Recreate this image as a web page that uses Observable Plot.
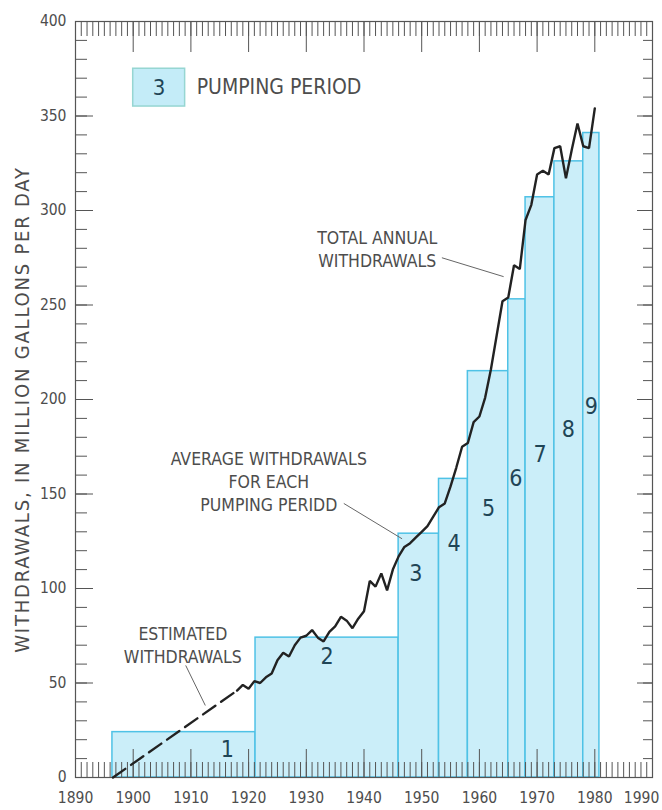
<!DOCTYPE html>
<html><head><meta charset="utf-8">
<script src="https://cdn.jsdelivr.net/npm/d3@7"></script>
<script src="https://cdn.jsdelivr.net/npm/@observablehq/plot@0.6"></script>
<style>
body{margin:0;background:#fff;}
#chart svg{display:block;}
</style></head><body><div id="chart"></div>
<script>
// ---- Pumping periods (average withdrawals) ----
const periodNames  = ["1","2","3","4","5","6","7","8","9"];
const periodStart  = [1896.4, 1921.2, 1946, 1953, 1958, 1965, 1968, 1973, 1978];
const periodEnd    = [1921.2, 1946, 1953, 1958, 1965, 1968, 1973, 1978, 1980.8];
const periodAvg    = [24, 74, 129, 158, 215, 253, 307, 326, 341];
const periodLabelX = [1916.3, 1933.6, 1949, 1955.6, 1961.6, 1966.3, 1970.5, 1975.4, 1979.4];
const periodLabelY = [15, 64, 108, 124, 142, 158, 171, 184, 196];

// ---- Estimated withdrawals (dashed) ----
const estYears  = [1896.5, 1918];
const estValues = [0, 46];

// ---- Total annual withdrawals ----
const years = [1918,1919,1920,1921,1922,1923,1924,1925,1926,1927,
               1928,1929,1930,1931,1932,1933,1934,1935,1936,1937,
               1938,1939,1940,1941,1942,1943,1944,1945,1946,1947,
               1948,1949,1950,1951,1952,1953,1954,1955,1956,1957,
               1958,1959,1960,1961,1962,1963,1964,1965,1966,1967,
               1968,1969,1970,1971,1972,1973,1974,1975,1976,1977,
               1978,1979,1980];
const values = [46,49,47,51,50,53,55,62,66,64,
                70,74,75,78,74,72,77,80,85,83,
                79,84,88,104,101,108,99,110,117,122,
                124,127,130,133,138,143,145,154,164,175,
                177,188,191,201,216,234,252,254,271,269,
                295,303,319,321,319,333,334,317,332,346,
                334,333,354];

// ---- Axes ----
const xTickLabels = [1890,1900,1910,1920,1930,1940,1950,1960,1970,1980,1990];
const yTickLabels = [0,50,100,150,200,250,300,350,400];
const yLabel = "WITHDRAWALS, IN MILLION GALLONS PER DAY";

// ---- Annotations ----
const notes = [
  {x: 1942.3, y: 280, text: "TOTAL ANNUAL\nWITHDRAWALS"},
  {x: 1923.5, y: 157, text: "AVERAGE WITHDRAWALS\nFOR EACH\nPUMPING PERIDD"},
  {x: 1908.6, y: 70.5, text: "ESTIMATED\nWITHDRAWALS"}
];
const leaders = [
  {x1: 1953.5, y1: 275, x2: 1964.2, y2: 265},
  {x1: 1936.5, y1: 145, x2: 1946.6, y2: 126.3},
  {x1: 1909.1, y1: 59.3, x2: 1912.5, y2: 38.1}
];
const legendBox = {x1: 1900, x2: 1909, y1: 355, y2: 375, num: "3", label: "PUMPING PERIOD", tx: 1911, ty: 365};

const periods = periodNames.map((n, i) => ({name: n, start: periodStart[i], end: periodEnd[i], avg: periodAvg[i], lx: periodLabelX[i], ly: periodLabelY[i]}));
const annual = years.map((y, i) => ({year: y, value: values[i]}));
const est = estYears.map((y, i) => ({year: y, value: estValues[i]}));

const FONT = "'Liberation Sans Narrow', 'Arial Narrow', 'DejaVu Sans Condensed', sans-serif";
const TXT = "#4d4d4d";
const AX = "#555";
const allYears = d3.range(1890, 1991, 1);
const yMinor = d3.range(0, 401, 10);
const xLabelsMain = xTickLabels.slice(0, -1);
const xLabelsLast = xTickLabels.slice(-1);

const chart = Plot.plot({
  width: 662, height: 810,
  marginTop: 21, marginBottom: 33, marginLeft: 75, marginRight: 10,
  x: {domain: [1890, 1990]},
  y: {domain: [0, 400]},
  style: {fontFamily: FONT, background: "#fff", color: AX},
  marks: [
    Plot.rectY(periods, {x1: "start", x2: "end", y: "avg", fill: "#cbeef9", stroke: "#4fc2e6", strokeWidth: 1.5}),
    // legend swatch
    Plot.rect([legendBox], {x1: "x1", x2: "x2", y1: "y1", y2: "y2", fill: "#c4ecf8", stroke: "#96d6d2", strokeWidth: 1.5}),
    Plot.text([legendBox], {x: d => (d.x1 + d.x2) / 2, y: "ty", text: "num", fontSize: 22, fill: "#1f4556"}),
    Plot.text([legendBox], {x: "tx", y: "ty", text: "label", fontSize: 21, fill: TXT, textAnchor: "start"}),
    // frame & ticks
    Plot.frame({stroke: AX, strokeWidth: 1.2}),
    Plot.axisX(allYears, {anchor: "bottom", tickSize: -15, fill: "none", stroke: AX, label: null}),
    Plot.axisX(xTickLabels, {anchor: "bottom", tickSize: -28, fill: "none", stroke: AX, label: null}),
    Plot.axisX(allYears, {anchor: "top", tickSize: -14, fill: "none", stroke: AX, label: null}),
    Plot.axisX(xTickLabels, {anchor: "top", tickSize: -30, fill: "none", stroke: AX, label: null}),
    Plot.axisX(xLabelsMain, {anchor: "bottom", tickSize: 0, tickPadding: 14, stroke: "none", fill: TXT, fontSize: 15.5, tickFormat: "d", label: null}),
    Plot.axisX(xLabelsLast, {anchor: "bottom", tickSize: 0, tickPadding: 14, dx: -11, stroke: "none", fill: TXT, fontSize: 15.5, tickFormat: "d", label: null}),
    Plot.axisY(yMinor, {anchor: "left", tickSize: -12, fill: "none", stroke: AX, label: null}),
    Plot.axisY(yTickLabels, {anchor: "left", tickSize: -18, fill: "none", stroke: AX, label: null}),
    Plot.axisY(yMinor, {anchor: "right", tickSize: -10, fill: "none", stroke: AX, label: null}),
    Plot.axisY(yTickLabels, {anchor: "right", tickSize: -16, fill: "none", stroke: AX, label: null}),
    Plot.axisY(yTickLabels, {anchor: "left", tickSize: 0, tickPadding: 9, stroke: "none", fill: TXT, fontSize: 15.5, tickFormat: "d", label: null}),
    Plot.text([yLabel], {frameAnchor: "left", text: d => d, rotate: -90, textAnchor: "middle", lineAnchor: "middle", dx: -53, dy: 10, fontSize: 20, fill: TXT}),
    // lines
    Plot.line(est, {x: "year", y: "value", stroke: "#222", strokeWidth: 2.4, strokeDasharray: "15,7"}),
    Plot.line(annual, {x: "year", y: "value", stroke: "#222", strokeWidth: 2.4, strokeLinejoin: "miter"}),
    // annotations
    Plot.link(leaders, {x1: "x1", y1: "y1", x2: "x2", y2: "y2", stroke: "#666", strokeWidth: 1}),
    Plot.text(notes, {x: "x", y: "y", text: "text", fontSize: 17.5, lineHeight: 1.3, fill: TXT}),
    Plot.text(periods, {x: "lx", y: "ly", text: "name", fontSize: 23, fill: "#1f4556"})
  ]
});
d3.select(chart).selectAll("text").filter(function() { return this.textContent === yLabel; }).style("letter-spacing", "1.8px");
document.getElementById("chart").appendChild(chart);
</script>
</body></html>
